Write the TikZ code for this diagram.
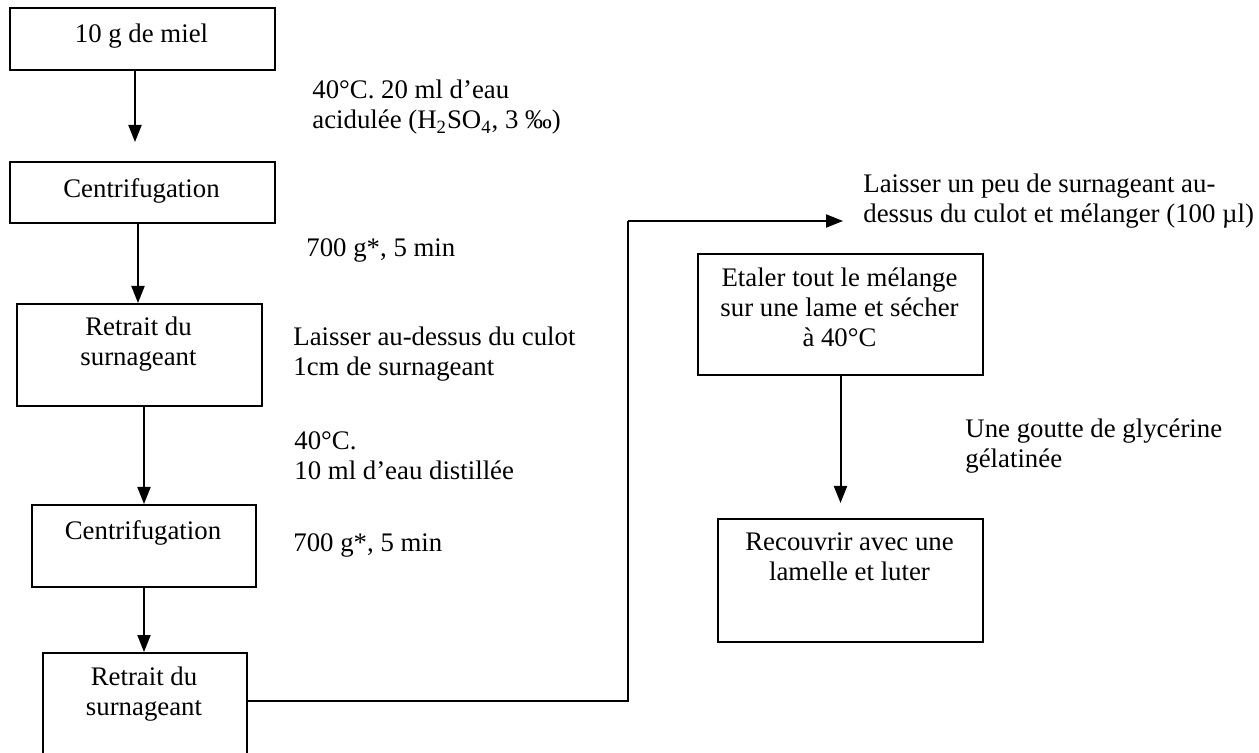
\documentclass[tikz,border=0pt]{standalone}
\usepackage{fontspec}
\setmainfont{Liberation Serif}
\usetikzlibrary{arrows.meta,calc}
\begin{document}
\begin{tikzpicture}[x=0.5pt,y=-0.5pt,
  every node/.style={font=\fontsize{13.4}{15}\selectfont},
  box/.style={draw,line width=1pt,inner sep=0pt,anchor=north west},
  txt/.style={inner sep=0pt},
  mtxt/.style={inner sep=0pt,align=center,anchor=north,execute at begin node=\strut},
  ltxt/.style={inner sep=0pt,align=left,anchor=north west,execute at begin node=\strut},
  arr/.style={line width=1pt,-{Triangle[length=8.5pt,width=6.5pt]}},
  conn/.style={line width=1pt}]
\useasboundingbox (0,0) rectangle (1259,753);
\clip (0,0) rectangle (1259,753);
% boxes
\node[box,minimum width=132.5pt,minimum height=31pt] (b1) at (9,7) {};
\node[box,minimum width=132.5pt,minimum height=30.5pt] (b2) at (9,161) {};
\node[box,minimum width=122.5pt,minimum height=51pt] (b3) at (16,303) {};
\node[box,minimum width=112pt,minimum height=41pt] (b4) at (31,504) {};
\node[box,minimum width=102pt,minimum height=59pt] (b5) at (42,652) {};
\node[box,minimum width=142.5pt,minimum height=60.5pt] (b6) at (697,253) {};
\node[box,minimum width=132.5pt,minimum height=61.5pt] (b7) at (717,518) {};
% box texts
\node[txt,anchor=base] (t1) at (141.5,43) {10 g de miel};
\node[txt,anchor=base] (t2) at (141.5,198) {Centrifugation};
\node[mtxt] (t3) at (138.5,317) {Retrait du\\surnageant};
\node[txt,anchor=base] (t4) at (143,540) {Centrifugation};
\node[mtxt] (t5) at (144,667) {Retrait du\\surnageant};
\node[mtxt] (t6) at (839.5,267) {Etaler tout le mélange\\sur une lame et sécher\\à 40°C};
\node[mtxt] (t7) at (849.5,532) {Recouvrir avec une\\lamelle et luter};
% side labels
\node[ltxt] (l1) at (312,80) {40°C. 20 ml d’eau\\acidulée (H\textsubscript{2}SO\textsubscript{4}, 3 ‰)};
\node[txt,anchor=base west] (l2) at (306,257) {700 g*, 5 min};
\node[ltxt] (l3) at (293,327) {Laisser au-dessus du culot\\1cm de surnageant};
\node[ltxt] (l4) at (294,431) {40°C.\\10 ml d’eau distillée};
\node[txt,anchor=base west] (l5) at (293,552) {700 g*, 5 min};
\node[ltxt] (l6) at (863,174) {Laisser un peu de surnageant au-\\dessus du culot et mélanger (100 µl)};
\node[ltxt] (l7) at (965,418) {Une goutte de glycérine\\gélatinée};
% connectors
\draw[arr,shorten >=9.5pt] ([xshift=-3.75pt]b1.south) -- ([xshift=-3.75pt]b2.north);
\draw[arr] ([xshift=-2.25pt]b2.south) -- ([xshift=-2.25pt]b2.south |- b3.north);
\draw[arr] (b4.north |- b3.south) -- (b4.north);
\draw[arr] (b4.south) -- (b4.south |- b5.north);
\coordinate (c1) at (628,701);
\coordinate (c2) at (628,221);
\coordinate (c3) at (843,221);
\draw[conn] (b5.east |- c1) -- (c1) -- (c2);
\draw[arr] (c2) -- (c3);
\draw[arr,shorten >=7.5pt] (b6.south) -- (b6.south |- b7.north);
\end{tikzpicture}
\end{document}
